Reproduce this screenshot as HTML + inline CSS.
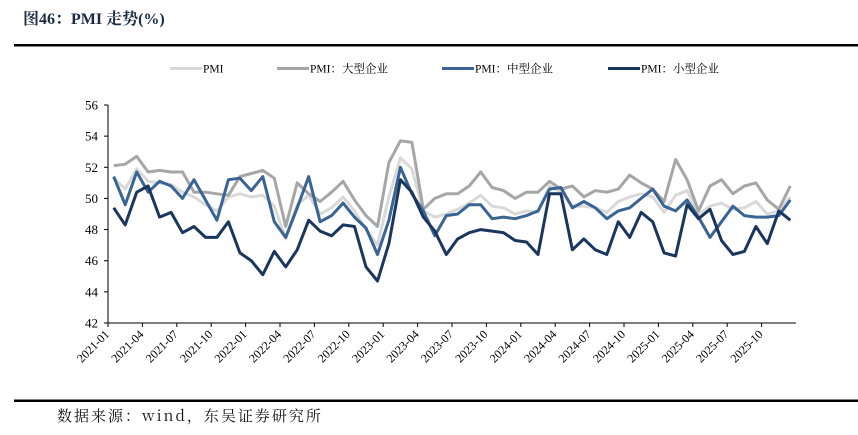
<!DOCTYPE html>
<html><head><meta charset="utf-8">
<style>
html,body{margin:0;padding:0;background:#fff;}
svg{display:block;font-family:"Liberation Serif","Noto Serif CJK SC",serif;}
</style></head>
<body>
<svg id="chart" width="858" height="435" viewBox="0 0 858 435">
  <text x="23" y="24" font-size="16" font-weight="bold" fill="#1a2a44">图46：PMI 走势(%)</text>
  <rect x="14" y="44" width="844" height="2.5" fill="#000"/>
  <g id="legend"></g>
  <g id="axes"></g>
  <g id="series"></g>
  <rect x="14" y="399.5" width="844" height="2.5" fill="#000"/>
  <text x="57" y="421" font-size="15" letter-spacing="2" fill="#111" font-family="'Noto Serif CJK SC','Liberation Serif',serif">数据来源：wind，东吴证券研究所</text>
</svg>
<script>
const months = [];
for (let y = 2021; y <= 2025; y++) for (let m = 1; m <= 12; m++) months.push(y + '-' + String(m).padStart(2, '0'));
const yTicks = [42, 44, 46, 48, 50, 52, 54, 56];
const seriesNames = ['PMI', 'PMI：大型企业', 'PMI：中型企业', 'PMI：小型企业'];
const pmi = [51.3,50.6,51.9,51.1,51.0,50.9,50.4,50.1,49.6,49.2,50.1,50.3,
  50.1,50.2,49.5,47.4,49.6,50.2,49.0,49.4,50.1,49.2,48.0,47.0,
  50.1,52.6,51.9,49.2,48.8,49.0,49.3,49.7,50.2,49.5,49.4,49.0,
  49.2,49.1,50.8,50.4,49.5,49.5,49.4,49.1,49.8,50.1,50.3,50.1,
  49.1,50.2,50.5,49.0,49.5,49.7,49.3,49.4,49.8,49.0,49.2,50.1];
const large = [52.1,52.2,52.7,51.7,51.8,51.7,51.7,50.4,50.4,50.3,50.2,51.4,
  51.6,51.8,51.3,48.2,51.0,50.3,49.8,50.4,51.1,49.9,48.9,48.2,
  52.3,53.7,53.6,49.3,50.0,50.3,50.3,50.8,51.7,50.7,50.5,50.0,
  50.4,50.4,51.1,50.6,50.8,50.1,50.5,50.4,50.6,51.5,51.0,50.6,
  49.8,52.5,51.2,49.2,50.8,51.2,50.3,50.8,51.0,49.9,49.3,50.8];
const medium = [51.4,49.6,51.7,50.4,51.1,50.8,50.0,51.2,49.9,48.6,51.2,51.3,
  50.5,51.4,48.5,47.5,49.4,51.4,48.5,48.9,49.7,48.8,48.1,46.4,
  48.6,52.0,50.3,49.2,47.6,48.9,49.0,49.6,49.6,48.7,48.8,48.7,
  48.9,49.2,50.6,50.7,49.4,49.8,49.4,48.7,49.2,49.4,50.0,50.6,
  49.5,49.2,49.9,48.8,47.5,48.5,49.5,48.9,48.8,48.8,48.9,49.9];
const small = [49.4,48.3,50.4,50.8,48.8,49.1,47.8,48.2,47.5,47.5,48.5,46.5,
  46.0,45.1,46.6,45.6,46.7,48.6,47.9,47.6,48.3,48.2,45.6,44.7,
  47.1,51.2,50.4,48.8,47.9,46.4,47.4,47.8,48.0,47.9,47.8,47.3,
  47.2,46.4,50.3,50.3,46.7,47.4,46.7,46.4,48.5,47.5,49.1,48.5,
  46.5,46.3,49.6,48.7,49.3,47.3,46.4,46.6,48.2,47.1,49.2,48.6];

const NS = 'http://www.w3.org/2000/svg';
const X0 = 108, X1 = 796, Y0 = 323, Y1 = 105, YMIN = 42, YMAX = 56;
const band = (X1 - X0) / months.length;
const xPos = i => X0 + band * (i + 0.5);
const yPos = v => Y0 - (v - YMIN) / (YMAX - YMIN) * (Y0 - Y1);
function mk(tag, attrs, parent) {
  const el = document.createElementNS(NS, tag);
  for (const k in attrs) el.setAttribute(k, attrs[k]);
  parent.appendChild(el);
  return el;
}
const axes = document.getElementById('axes');
let el = mk('line', {x1: X0, y1: Y1, x2: X0, y2: Y0, stroke: '#000', 'stroke-width': 1}, axes);


el = mk('line', {x1: X0, y1: Y0, x2: X1, y2: Y0, stroke: '#000', 'stroke-width': 1}, axes);


yTicks.forEach(t => {
  const y = yPos(t);
  const tk = mk('line', {x1: X0 - 4, y1: y, x2: X0, y2: y, stroke: '#000'}, axes);
  
  
  const lb = mk('text', {x: X0 - 10, y: y + 4.5, 'font-size': 13, 'text-anchor': 'end', fill: '#000'}, axes);
  lb.textContent = t;
  
  
});
months.forEach((m, i) => {
  if (i % 3 !== 0) return;
  const x = X0 + band * i;
  const tk = mk('line', {x1: x, y1: Y0, x2: x, y2: Y0 + 4, stroke: '#000'}, axes);
  
  
  const lb = mk('text', {x: x + 2, y: Y0 + 12, 'font-size': 12, 'text-anchor': 'end', fill: '#000', transform: `rotate(-45 ${x + 2} ${Y0 + 12})`}, axes);
  lb.textContent = m;
  
  
});
const colors = ['#d9d9d9', '#a6a6a6', '#3a6494', '#1b365d'];
const data = [pmi, large, medium, small];
const sNames = ['line-pmi', 'line-large', 'line-medium', 'line-small'];
const sg = document.getElementById('series');
data.forEach((arr, s) => {
  const pts = arr.map((v, i) => xPos(i).toFixed(1) + ',' + yPos(v).toFixed(1)).join(' ');
  const pl = mk('polyline', {points: pts, fill: 'none', stroke: colors[s], 'stroke-width': 3, 'stroke-linejoin': 'round'}, sg);
  
  
});
const lg = document.getElementById('legend');
const lx = [170, 277, 442, 608];
seriesNames.forEach((n, s) => {
  const ln = mk('line', {x1: lx[s], y1: 68.5, x2: lx[s] + 32, y2: 68.5, stroke: colors[s], 'stroke-width': 3}, lg);
  
  
  const tx = mk('text', {x: lx[s] + 33, y: 72.5, 'font-size': 11.5, fill: '#000'}, lg);
  tx.textContent = n;
  
  
});
</script>
</body></html>
